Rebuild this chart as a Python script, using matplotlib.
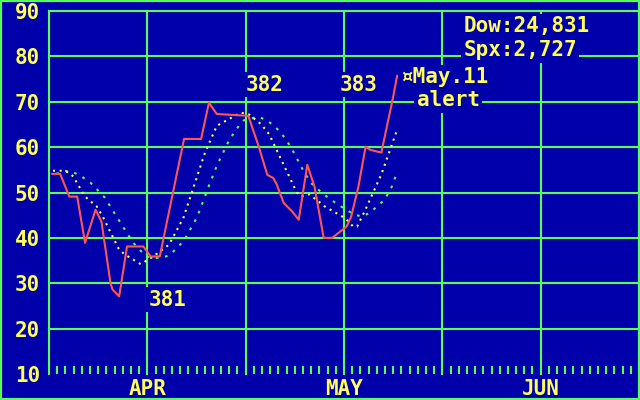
import matplotlib
matplotlib.use("Agg")
import matplotlib.pyplot as plt
from matplotlib.patches import Rectangle
from matplotlib.transforms import blended_transform_factory

# ---- data (x = days from Apr 1) ----
red_x = [-14.5, -13.3, -11.9, -10.7, -9.5, -7.9, -7.0, -5.6, -5.3, -4.3, -3.1, -0.6, 0.5, 1.9, 5.6,
         8.2, 9.4, 10.6, 15.4, 17.0, 18.3, 19.2, 19.7, 20.8, 22.1, 23.1, 24.4, 25.5, 26.9, 28.2,
         30.4, 31.1, 32.2, 33.3, 34.0, 35.7, 37.5, 38.1]
red_y = [54.1, 54.1, 49.1, 49.1, 38.9, 46.2, 43.6, 29.9, 28.6, 27.1, 38.1, 38.1, 35.9, 35.9, 61.8,
         61.8, 69.8, 67.3, 66.9, 60.1, 53.9, 53.2, 51.9, 47.7, 45.8, 44.0, 56.1, 51.3, 40.0, 40.0,
         42.5, 44.7, 51.3, 60.1, 59.4, 58.8, 71.1, 75.7]

fast_x = [-14.4, -13.2, -11.9, -11.3, -9.5, -7.7, -6.8, -4.3, -3.4, -1.0, 0.9, 3.3, 5.5, 8.8, 10.6,
          13.1, 14.3, 15.5, 17.4, 18.6, 22.8, 23.5, 24.7, 27.1, 30.2, 31.4, 32.0, 33.2, 35.7, 38.1]
fast_y = [54.8, 54.8, 54.4, 53.5, 49.1, 46.9, 44.7, 37.4, 36.3, 34.2, 35.9, 38.5, 44.4, 58.8, 64.7,
          66.7, 67.6, 67.2, 65.0, 62.8, 50.0, 49.1, 49.6, 46.9, 44.3, 42.5, 42.5, 46.0, 54.0, 63.8]

slow_x = [-13.9, -12.6, -11.2, -10.0, -8.7, -7.5, -6.5, -4.6, -2.2, -0.2, 1.1, 2.3, 3.5, 5.6, 7.6,
          9.4, 10.6, 12.5, 14.0, 14.7, 16.9, 18.3, 20.3, 21.9, 23.8, 24.9, 26.8, 29.1, 31.6, 32.8,
          34.0, 36.2, 37.2, 38.1]
slow_y = [54.1, 54.8, 54.4, 53.5, 52.2, 50.4, 48.9, 44.5, 39.0, 35.9, 35.6, 35.6, 36.3, 39.4, 44.6,
          51.5, 55.9, 61.6, 64.8, 65.9, 66.7, 65.9, 63.4, 60.0, 54.8, 52.2, 49.7, 47.3, 45.1, 44.7,
          45.6, 48.4, 51.0, 54.4]

month_labels = ["APR", "MAY", "JUN"]
month_pos = [0, 30, 60]
y_ticks = [10, 20, 30, 40, 50, 60, 70, 80, 90]

cycle_labels = ["381", "382", "383"]
cycle_x = [3.05, 17.85, 32.2]
cycle_y = [26.4, 73.7, 73.7]

alert_date = "May.11"
alert_text = "alert"
dow_text = "Dow:24,831"
spx_text = "Spx:2,727"

# ---- style ----
BG = "#0000AA"
GREEN = "#55FF55"
YELLOW = "#FFFF55"
RED = "#FF5555"
FSIZE = 15
FONT = dict(family=["DejaVu Sans Mono"], weight="bold", size=FSIZE, color=YELLOW)

fig = plt.figure(figsize=(6.4, 4.0), dpi=100, facecolor=BG)
ax = fig.add_axes([49 / 640, 1 - 374 / 400, 590 / 640, 363 / 400])
ax.set_facecolor(BG)
ax.set_xlim(-15, 75)
ax.set_ylim(10, 90)

for s in ax.spines.values():
    s.set_visible(False)

ax.set_xticks([-15, 0, 15, 30, 45, 60, 75])
ax.set_xticklabels([])
ax.set_xticks([-15 + 1.25 * k for k in range(73)], minor=True)
ax.tick_params(axis="x", which="major", length=0)
ax.tick_params(axis="x", which="minor", direction="in", length=5.6, width=1.5, color=GREEN)
ax.set_yticks(y_ticks)
ax.set_yticklabels([str(v) for v in y_ticks])
ax.tick_params(axis="y", length=0, pad=6.5)
for lab in ax.get_yticklabels():
    lab.set_fontfamily(FONT["family"])
    lab.set_fontweight("bold")
    lab.set_fontsize(FSIZE)
    lab.set_color(YELLOW)

ax.grid(True, which="major", color=GREEN, linewidth=1.5, zorder=1)
ax.set_axisbelow(True)
for gl in ax.xaxis.get_gridlines() + ax.yaxis.get_gridlines():
    gl.set_clip_on(False)
ax.yaxis.get_gridlines()[0].set_visible(False)

ax.plot(slow_x, slow_y, color=GREEN, linewidth=1.5, linestyle=(0, (1.3, 3.2)),
        dash_capstyle="butt", zorder=3)
ax.plot(fast_x, fast_y, color=YELLOW, linewidth=1.5, linestyle=(0, (1.0, 2.2)),
        dash_capstyle="butt", zorder=4)
ax.plot(red_x, red_y, color=RED, linewidth=1.5, zorder=5)

bt = blended_transform_factory(ax.transData, ax.transAxes)
for lbl, pos in zip(month_labels, month_pos):
    ax.text(pos, -0.041, lbl, transform=bt, ha="center", va="center", clip_on=False, **FONT)

box = dict(boxstyle="square,pad=0.12", facecolor=BG, edgecolor="none")
for lbl, x, y in zip(cycle_labels, cycle_x, cycle_y):
    ax.text(x, y, lbl, ha="center", va="center", bbox=box, zorder=6, **FONT)

ax.text(38.6, 75.4, "\u00a4" + alert_date, ha="left", va="center", bbox=box, zorder=6, **FONT)
ax.text(41.1, 70.3, alert_text, ha="left", va="center", bbox=box, zorder=6, **FONT)
ax.text(48.2, 86.6, dow_text, ha="left", va="center", bbox=box, zorder=6, **FONT)
ax.text(48.2, 81.4, spx_text, ha="left", va="center", bbox=box, zorder=6, **FONT)

fig.patches.append(Rectangle((0, 0), 1, 1, transform=fig.transFigure, fill=False,
                             edgecolor=GREEN, linewidth=3.0, zorder=10))

fig.savefig("out.png", dpi=100, facecolor=BG)
